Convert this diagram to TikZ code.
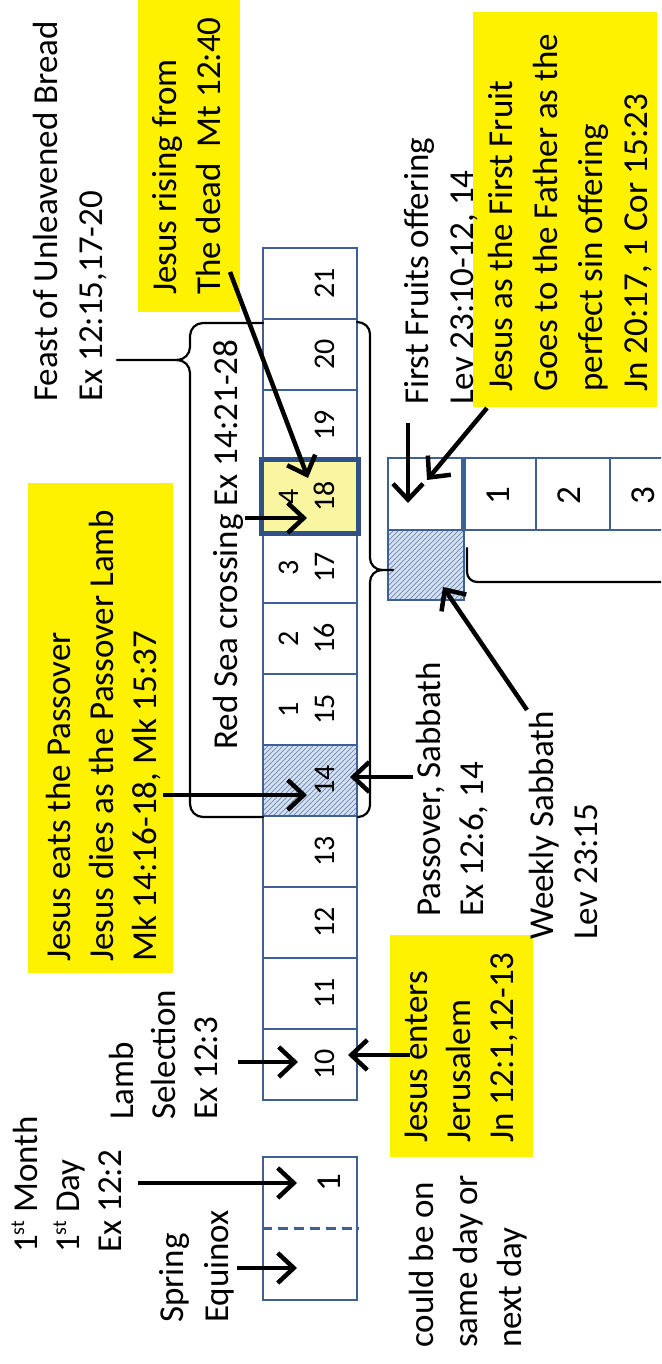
\documentclass[tikz,border=0pt]{standalone}
\usepackage{fontspec}
\setmainfont{Carlito}
\usetikzlibrary{arrows.meta,patterns}
\pgfdeclarepatternformonly{hatchfine}{\pgfqpoint{-1pt}{-1pt}}{\pgfqpoint{6pt}{6pt}}{\pgfqpoint{5pt}{5pt}}{\pgfsetlinewidth{0.8pt}\pgfpathmoveto{\pgfqpoint{0pt}{0pt}}\pgfpathlineto{\pgfqpoint{5.1pt}{5.1pt}}\pgfusepath{stroke}}
\newcommand\supst{\raisebox{13pt}{\fontsize{20}{20}\selectfont st}}
\definecolor{cellblue}{RGB}{62,96,148}
\definecolor{cellbluedark}{RGB}{50,80,135}
\definecolor{hatchblue}{RGB}{120,145,185}
\definecolor{hatchfill}{RGB}{215,227,243}
\definecolor{paleyellow}{RGB}{250,245,160}
\begin{document}
\begin{tikzpicture}[x=1pt,y=1pt]
\useasboundingbox (0,0) rectangle (661,1364);
\fill[white] (0,0) rectangle (661,1364);
\clip (0,0) rectangle (661,1364);
\begin{scope}[rotate=90, transform shape,
  cell/.style={draw=cellblue, line width=2.8pt, inner sep=0pt, minimum width=71pt, minimum height=94pt},
  scell/.style={draw=cellblue, line width=2.8pt, inner sep=0pt, minimum width=72pt, minimum height=74pt},
  digit/.style={inner sep=0pt, anchor=base, font=\fontsize{30}{36}\selectfont},
  bigdigit/.style={inner sep=0pt, font=\fontsize{35}{42}\selectfont},
  txt/.style={inner sep=0pt, anchor=north west, align=left},
  ybox/.style={fill=yellow, inner sep=0pt, anchor=north west},
  arr/.style={line width=4.5pt, -{Straight Barb[length=16pt,width=30pt]}},
  brace/.style={line width=2.2pt, line join=round, line cap=round}]

% yellow boxes
\node[ybox, minimum width=314pt, minimum height=102pt] (yrise) at (1052,-138) {};
\node[ybox, minimum width=490pt, minimum height=145pt] (yeats) at (391,-28) {};
\node[ybox, minimum width=395pt, minimum height=184pt] (yff) at (957,-473) {};
\node[ybox, minimum width=222pt, minimum height=143pt] (yent) at (207,-390) {};

% special fills
\fill[hatchfill] (548,-263) rectangle (619,-357);
\fill[pattern=hatchfine, pattern color=hatchblue] (548,-263) rectangle (619,-357);
\fill[hatchfill] (764,-388) rectangle (834,-464);
\fill[pattern=hatchfine, pattern color=hatchblue] (764,-388) rectangle (834,-464);
\fill[paleyellow] (832,-263) rectangle (903,-357);

% main strip
\foreach \d in {10,...,21}{\node[cell] (c\d) at ({264+71*(\d-10)+35.5},-310) {};}
\draw[draw=cellbluedark, line width=4.5pt] (c18.south west) rectangle (c18.north east);
\foreach \d in {10,...,21}{\node[digit] (n\d) at ({264+71*(\d-10)+35.5},-334) {\d};}
\foreach \d/\k in {15/1,16/2,17/3,18/4}{\node[digit] (t\k) at ({264+71*(\d-10)+35.5},-298) {\k};}

% first day box
\node[draw=cellblue, line width=2.8pt, inner sep=0pt, minimum width=143pt, minimum height=94pt] (first) at (135.5,-310) {};
\draw[cellblue, line width=2.5pt, dash pattern=on 10pt off 6pt] (first.north) -- (first.south);
\node[inner sep=0pt, anchor=base, font=\fontsize{35}{42}\selectfont] (one) at (181,-340) {1};

% second strip
\node[draw=cellblue, line width=2.8pt, inner sep=0pt, minimum width=70pt, minimum height=76pt] (ws) at (799,-426) {};
\node[scell] (ff) at (870,-425) {};
\node[scell] (s1) at (870,-499) {};
\node[scell] (s2) at (870,-573) {};
\node[scell] (s3) at (870,-647) {};
\node[bigdigit] (d1) at (868,-498) {1};
\node[bigdigit] (d2) at (868,-569) {2};
\node[bigdigit] (d3) at (868,-643) {3};
\draw[cellblue, line width=5pt] (ff.south west) -- (ff.south east);

% braces
\draw[brace] (1041,-263) -- (1041,-203) to[out=90,in=0] (1028,-190) -- (1017,-190) to[out=180,in=-90] (1004,-177) -- (1004,-117);
\draw[brace] (1004,-177) to[out=-90,in=0] (991,-190) -- (560,-190) to[out=180,in=90] (547,-203) -- (547,-263);
\draw[brace] (1042,-357) to[out=-90,in=0] (1030,-370) -- (806,-370) to[out=180,in=90] (794,-382) -- (794,-393);
\draw[brace] (794,-382) to[out=90,in=0] (782,-370) -- (559,-370) to[out=180,in=-90] (547,-358);
\draw[brace] (816,-467) -- (792,-467) to[out=180,in=90] (782,-477) -- (782,-670);

% texts
\node[txt, font=\fontsize{35}{45}\selectfont] (feast) at (962,-25.5) {\strut Feast of Unleavened Bread\\\strut Ex 12:15,17-20};
\node[txt, font=\fontsize{35}{44}\selectfont] (rising) at (1069,-145.2) {\strut Jesus rising from\\\strut The dead\ \ Mt 12:40};
\node[inner sep=0pt, anchor=base west, font=\fontsize{35}{44}\selectfont] (redsea) at (614,-237) {Red Sea crossing Ex 14:21-28};
\node[txt, font=\fontsize{35}{43}\selectfont] (eats) at (402,-39.9) {\strut Jesus eats the Passover\\\strut Jesus dies as the Passover Lamb\\\strut Mk 14:16-18, Mk 15:37};
\node[txt, font=\fontsize{35}{43}\selectfont] (passover) at (447,-409.9) {\strut Passover, Sabbath\\\strut Ex 12:6, 14};
\node[txt, font=\fontsize{35}{44}\selectfont] (weekly) at (424,-522.2) {\strut Weekly Sabbath\\\strut Lev 23:15};
\node[txt, font=\fontsize{35}{45}\selectfont] (ffo) at (959,-396.5) {\strut First Fruits offering\\\strut Lev 23:10-12, 14};
\node[txt, font=\fontsize{35}{45}\selectfont] (ffj) at (972,-480.5) {\strut Jesus as the First Fruit\\\strut Goes to the Father as the\\\strut perfect sin offering\\\strut Jn 20:17, 1 Cor 15:23};
\node[txt, font=\fontsize{35}{43}\selectfont] (enters) at (221,-396.9) {\strut Jesus enters\\\strut Jerusalem\\\strut Jn 12:1,12-13};
\node[txt, font=\fontsize{35}{42}\selectfont] (lamb) at (244,-103.6) {\strut Lamb\\\strut Selection\\\strut Ex 12:3};
\node[txt, font=\fontsize{35}{42}\selectfont] (month) at (111,-7.6) {\strut 1\supst{} Month\\\strut 1\supst{} Day\\\strut Ex 12:2};
\node[txt, font=\fontsize{35}{45}\selectfont] (spring) at (41,-151.5) {\strut Spring\\\strut Equinox};
\node[txt, font=\fontsize{35}{44}\selectfont] (could) at (16,-402.2) {\strut could be on\\\strut same day or\\\strut next day};

% arrows
\coordinate (a1s) at (1092,-230); \coordinate (a1e) at (886,-308);
\coordinate (a2s) at (846,-245);  \coordinate (a2e) at (846,-307);
\coordinate (a3s) at (569,-163);  \coordinate (a3e) at (569,-307);
\coordinate (a4s) at (587,-413);  \coordinate (a4e) at (587,-350);
\coordinate (a5s) at (654,-527);  \coordinate (a5e) at (777,-443);
\coordinate (a6s) at (941,-408);  \coordinate (a6e) at (861,-408);
\coordinate (a7s) at (956,-487);  \coordinate (a7e) at (884,-427);
\coordinate (a8s) at (309,-410);  \coordinate (a8e) at (309,-348);
\coordinate (a9s) at (302,-238);  \coordinate (a9e) at (302,-298);
\coordinate (a10s) at (181,-138); \coordinate (a10e) at (181,-297);
\coordinate (a11s) at (96,-237);  \coordinate (a11e) at (96,-297);
\foreach \i in {1,...,11}{\draw[arr] (a\i s) -- (a\i e);}
\end{scope}
\end{tikzpicture}
\end{document}
